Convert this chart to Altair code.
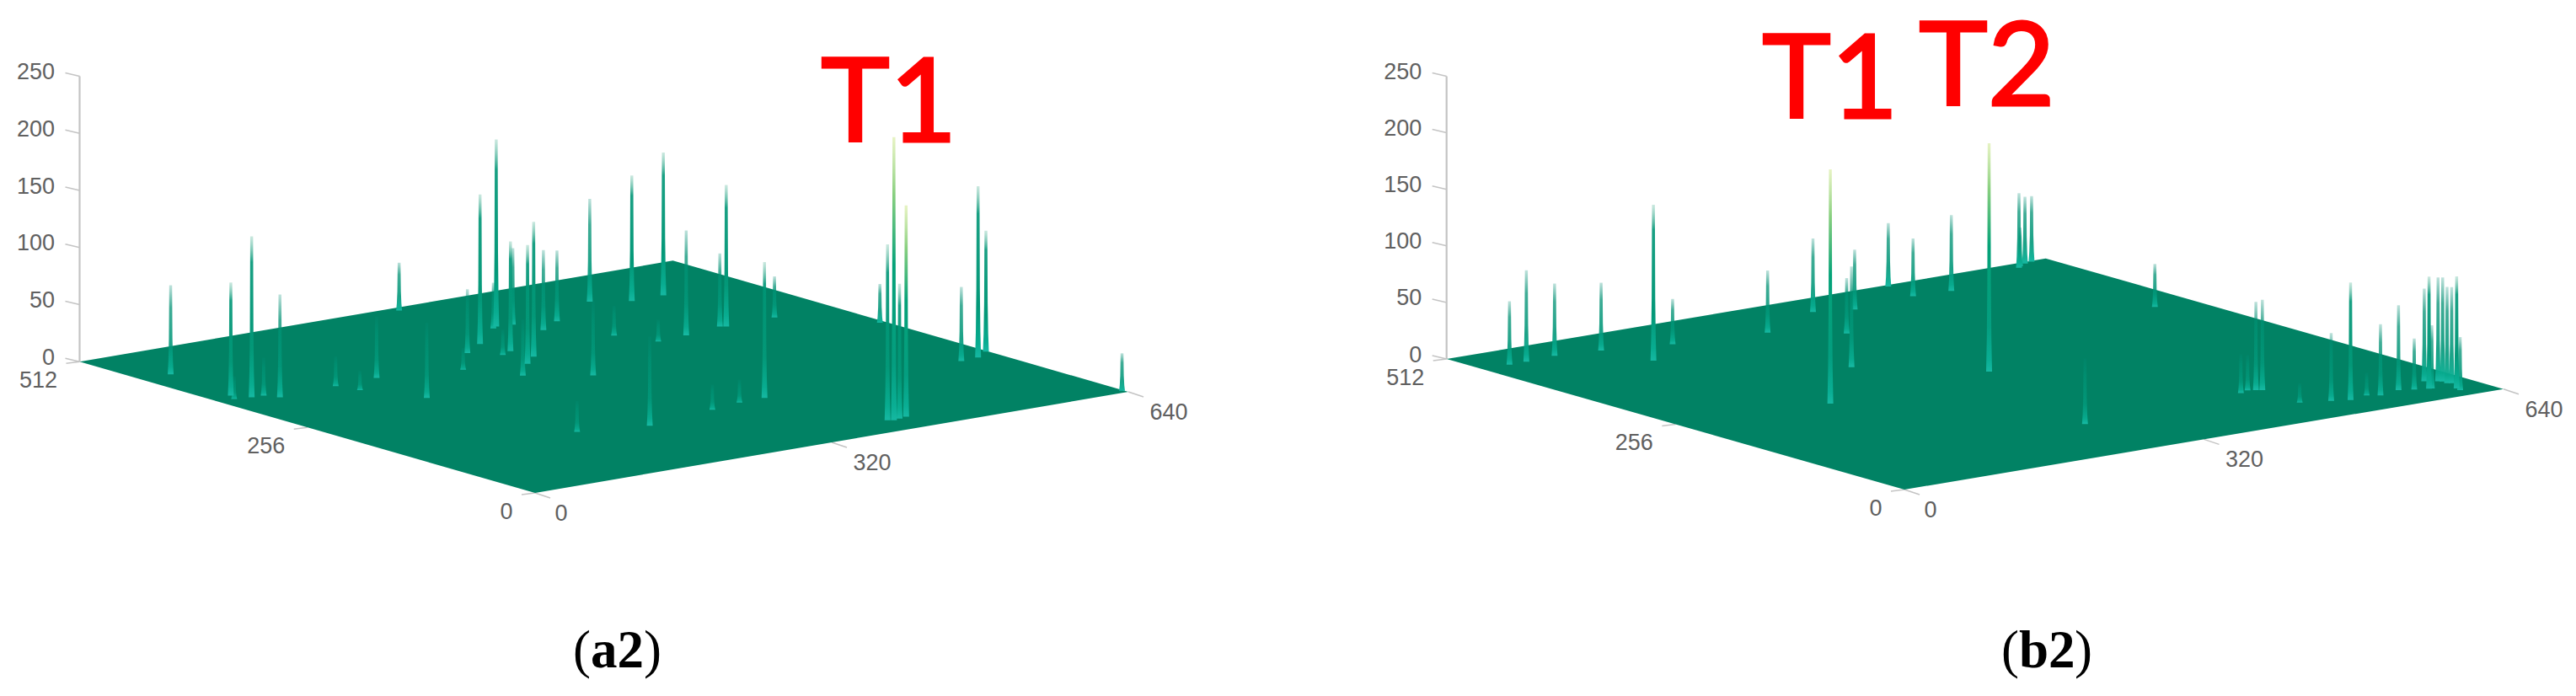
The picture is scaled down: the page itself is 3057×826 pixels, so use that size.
import altair as alt
import numpy as np
import pandas as pd

# --- values: spike column, row (image pixels) and height
A_COL = [32, 23, 17, 33, 45, 52, 116, 123, 163, 337, 150, 241, 283, 313, 359, 365, 303, 317, 381, 299, 268, 320, 389, 419, 172, 487, 316, 424, 517,
         552, 236, 440, 473, 517, 521, 379, 575, 316, 351, 634, 410, 414, 422, 431, 599, 619, 638, 638]
A_ROW = [443, 366, 356, 353, 352, 341, 345, 325, 348, 504, 278, 332, 371, 388, 421, 424, 352, 358, 422, 320, 293, 335, 396, 412, 132, 446, 264, 353, 430,
         431, 117, 320, 323, 331, 328, 137, 330, 130, 136, 273, 31, 28, 30, 32, 145, 147, 158, 5]
A_Z = [78, 99, 20, 141, 33, 90, 26, 17, 54, 42, 66, 19, 56, 131, 40, 164, 22, 96, 67, 104, 49, 118, 70, 62, 27, 90, 65, 26, 110,
       125, 78, 19, 92, 64, 124, 119, 36, 22, 20, 34, 154, 248, 118, 185, 65, 150, 106, 33]

B_COL = [29, 47, 80, 124, 135, 187, 278, 357, 153, 329, 391, 253, 468, 462, 500, 335, 600, 623, 605, 614, 599, 276, 454, 465, 471, 475, 471, 496, 511,
         533, 542, 567, 579, 605, 591, 593, 614, 617, 616, 619, 610, 608]
B_ROW = [472, 472, 475, 469, 422, 455, 444, 476, 243, 409, 465, 324, 508, 474, 471, 256, 500, 510, 504, 508, 347, 87, 99, 103, 100, 97, 51, 42, 36,
         41, 35, 41, 36, 52, 32, 31, 46, 44, 38, 36, 21, 15]
B_Z = [56, 81, 64, 60, 138, 40, 55, 65, 207, 49, 53, 89, 56, 51, 67, 202, 66, 58, 34, 59, 38, 58, 34, 31, 78, 80, 17, 60, 104,
       20, 63, 75, 45, 82, 99, 56, 92, 92, 85, 85, 99, 47]

Z_TICKS = [0, 50, 100, 150, 200, 250]
ROW_TICKS = [0, 256, 512]
COL_TICKS = [0, 320, 640]
CAPTIONS = [("(", "a2", ")"), ("(", "b2", ")")]

# --- view geometry of the two panels (image pixels)
PANELS = [
    dict(front=(635, 585), right=(1339, 465), left=(94.5, 429.3), zscale=1.355,
         cols=A_COL, rows=A_ROW, zs=A_Z, cap_x=680, notes=[("T1", 1055, 168)]),
    dict(front=(2260, 581), right=(2971, 461.7), left=(1716.7, 426), zscale=1.342,
         cols=B_COL, rows=B_ROW, zs=B_Z, cap_x=2375, notes=[("T1", 2172, 140), ("T2", 2358, 125)]),
]


def project(p, col, row, z=0):
    fx, fy = p["front"]
    x = fx + (p["right"][0] - fx) * col / 640 + (p["left"][0] - fx) * row / 512
    y = fy + (p["right"][1] - fy) * col / 640 + (p["left"][1] - fy) * row / 512
    return x, y - z * p["zscale"]


planes, spikes, rules, labels = [], [], [], []
for i, p in enumerate(PANELS):
    fx, fy = p["front"]
    lx, ly = p["left"]
    rx, ry = p["right"]
    bx, by = project(p, 640, 512)
    ys = sorted([by, ly, ry, fy])
    xa = np.interp(ys, [by, ly, fy], [bx, lx, fx])
    xb = np.interp(ys, [by, ry, fy], [bx, rx, fx])
    for y, a, b in zip(ys, xa, xb):
        planes.append(dict(panel=i, y=y, x=a, x2=b))

    order = np.argsort(-np.array(p["rows"]))
    for rank, k in enumerate(order):
        c, r, z = p["cols"][k], p["rows"][k], p["zs"][k]
        X, Y = project(p, c, r)
        top = Y - z * p["zscale"]
        level = "low" if z < 95 else ("mid" if z < 170 else "high")
        for frac, hw in [(0, 1.7), (0.6, 2.1), (0.85, 2.7), (1, 3.5)]:
            spikes.append(dict(id=f"{i}-{rank:03d}", level=level, y=top + (Y - top) * frac, x=X - hw, x2=X + hw))

    # z axis with ticks and labels
    x0, y0 = project(p, 0, 512, 0)
    x1, y1 = project(p, 0, 512, Z_TICKS[-1])
    rules.append(dict(x=x0, y=y0, x2=x1, y2=y1, w=2.2))
    for t in Z_TICKS:
        xt, yt = project(p, 0, 512, t)
        rules.append(dict(x=xt - 17, y=yt - 4, x2=xt, y2=yt, w=1.5))
        labels.append(dict(t=str(t), x=xt - 29.5, y=yt - 4.5, a="right"))
    # row axis
    for t in ROW_TICKS:
        xt, yt = project(p, 0, t)
        rules.append(dict(x=xt, y=yt, x2=xt - 16, y2=yt + 2, w=1.5))
        dx = -34 if t == 0 else -49
        labels.append(dict(t=str(t), x=xt + dx, y=yt + 22.5, a="center"))
    # column axis
    for t in COL_TICKS:
        xt, yt = project(p, t, 0)
        rules.append(dict(x=xt, y=yt, x2=xt + 18, y2=yt + 6, w=1.5))
        dx = 31 if t == 0 else 48
        labels.append(dict(t=str(t), x=xt + dx, y=yt + 25, a="center"))

X_SCALE = alt.Scale(domain=[8, 3049], range=[0, 3041], nice=False, zero=False)
Y_SCALE = alt.Scale(domain=[818, 8], nice=False, zero=False)
ex = alt.X("x:Q", scale=X_SCALE, axis=None)
ey = alt.Y("y:Q", scale=Y_SCALE, axis=None)

plane_df = pd.DataFrame(planes)
spike_df = pd.DataFrame(spikes)
rule_df = pd.DataFrame(rules)
label_df = pd.DataFrame(labels)

layers = []
for w, g in rule_df.groupby("w"):
    layers.append(
        alt.Chart(g).mark_rule(color="#c4c4c4", strokeWidth=float(w)).encode(x=ex, y=ey, x2="x2:Q", y2="y2:Q")
    )
layers.append(
    alt.Chart(plane_df).mark_area(orient="horizontal", color="#018264").encode(
        x=ex, y=ey, x2="x2:Q", detail="panel:N"
    )
)


def grad(stops):
    return alt.Gradient(
        gradient="linear", x1=0, x2=0, y1=0, y2=1,
        stops=[alt.GradientStop(offset=o, color=c) for o, c in stops],
    )


GRADS = {
    "low": grad([(0, "rgba(0,140,115,0.25)"), (0.25, "rgba(0,145,115,0.75)"), (0.7, "rgba(2,152,122,0.9)"), (0.92, "rgba(8,172,144,0.95)"), (1, "#18baa4")]),
    "mid": grad([(0, "rgba(140,205,185,0.45)"), (0.16, "rgba(0,150,118,0.9)"), (0.7, "#039878"), (0.92, "#08ac90"), (1, "#16b8a2")]),
    "high": grad([(0, "rgba(220,238,170,0.7)"), (0.2, "rgba(130,205,120,0.95)"), (0.45, "#04a278"), (0.8, "#049e80"), (0.95, "#0aae94"), (1, "#16b8a2")]),
}
for level, g in GRADS.items():
    layers.append(
        alt.Chart(spike_df[spike_df.level == level]).mark_area(orient="horizontal", fill=g, stroke=None, opacity=1).encode(
            x=ex, y=ey, x2="x2:Q", detail="id:N"
        )
    )

for a, g in label_df.groupby("a"):
    layers.append(
        alt.Chart(g).mark_text(font="Liberation Sans", fontSize=27, color="#606060", align=a, baseline="middle").encode(
            x=ex, y=ey, text="t:N"
        )
    )

note_df = pd.DataFrame([dict(t=t, x=x, y=y) for p in PANELS for t, x, y in p["notes"]])
layers.append(
    alt.Chart(note_df).mark_text(font="Lato", fontSize=138, color="#ff0000", stroke="#ff0000", strokeWidth=3,
                                 align="center", baseline="alphabetic").encode(x=ex, y=ey, text="t:N")
)

cap_rows = []
for p, (o, m, c) in zip(PANELS, CAPTIONS):
    cap_rows.append(dict(t=o, x=p["cap_x"], y=792, bold="normal"))
    cap_rows.append(dict(t=m, x=p["cap_x"] + 21, y=792, bold="bold"))
    cap_rows.append(dict(t=c, x=p["cap_x"] + 84 + (3 if m.startswith("b") else 0), y=792, bold="normal"))
cap_df = pd.DataFrame(cap_rows)
for weight, g in cap_df.groupby("bold"):
    layers.append(
        alt.Chart(g).mark_text(font="Liberation Serif", fontSize=63, fontWeight=weight, color="#000000",
                               align="left", baseline="alphabetic").encode(x=ex, y=ey, text="t:N")
    )

chart = (
    alt.layer(*layers)
    .properties(width=3041, height=810, padding=0, autosize=alt.AutoSizeParams(type="none"))
    .configure_view(stroke=None)
)
chart.save("out.html", embed_options={"renderer": "svg", "actions": False})
